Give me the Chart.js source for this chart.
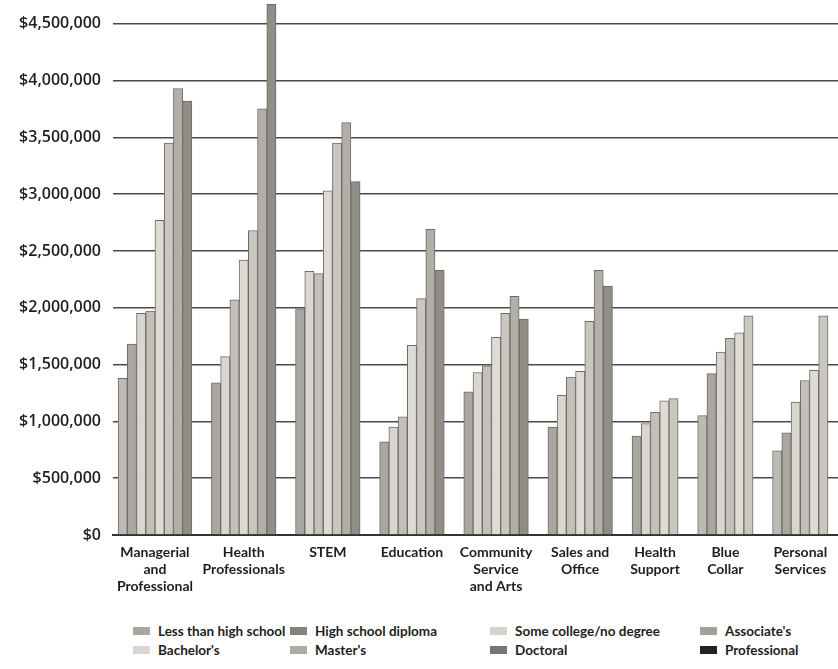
<!DOCTYPE html>
<html>
<head>
<meta charset="utf-8">
<script src="https://cdn.jsdelivr.net/npm/chart.js@4.4.1/dist/chart.umd.min.js"></script>
<style>
  html, body { margin: 0; padding: 0; background: #fff; width: 838px; height: 669px; overflow: hidden; }
  #wrap { position: absolute; left: 0; top: 0; width: 838px; height: 600px; }
  #legend { position: absolute; left: 0; top: 622px; width: 838px; height: 40px;
            font-family: Lato, "Open Sans", sans-serif; font-weight: bold;
            font-size: 13.5px; color: #1e1e1e; }
  .item { position: absolute; white-space: nowrap; line-height: 18px; }
  .sw { display: inline-block; width: 17px; height: 8px; margin-right: 8px; vertical-align: 1px; }
</style>
</head>
<body>
<div id="wrap"><canvas id="c" width="838" height="600"></canvas></div>
<div id="legend"></div>
<script>
const categories = [
  ["Managerial", "and", "Professional"],
  ["Health", "Professionals"],
  "STEM",
  "Education",
  ["Community", "Service", "and Arts"],
  ["Sales and", "Office"],
  ["Health", "Support"],
  ["Blue", "Collar"],
  ["Personal", "Services"]
];
const seriesNames = ["Less than high school", "High school diploma", "Some college/no degree", "Associate's",
                     "Bachelor's", "Master's", "Doctoral", "Professional"];
const lessThanHighSchool = [1380000, null, null, null, null, null, null, 1050000, 740000];
const highSchoolDiploma  = [1680000, 1340000, 1990000, 820000, 1260000, 950000, 870000, 1420000, 900000];
const someCollege        = [1950000, 1570000, 2320000, 950000, 1430000, 1230000, 980000, 1610000, 1170000];
const associates         = [1970000, 2070000, 2300000, 1040000, 1490000, 1390000, 1080000, 1730000, 1360000];
const bachelors          = [2770000, 2420000, 3030000, 1670000, 1740000, 1440000, 1180000, 1780000, 1450000];
const masters            = [3450000, 2680000, 3450000, 2080000, 1950000, 1880000, 1200000, 1930000, 1930000];
const doctoral           = [3930000, 3750000, 3630000, 2690000, 2100000, 2330000, null, null, null];
const professional       = [3820000, 4670000, 3110000, 2330000, 1900000, 2190000, null, null, null];
const yTickValues = [0, 500000, 1000000, 1500000, 2000000, 2500000, 3000000, 3500000, 4000000, 4500000];

const seriesValues = [lessThanHighSchool, highSchoolDiploma, someCollege, associates,
                      bachelors, masters, doctoral, professional];
const fills = ["#bdbab4", "#aaa6a0", "#d9d6d0", "#c3c0ba", "#dedbd5", "#cac7c1", "#b2aea8", "#918d87"];
const swatches = ["#aaa7a1", "#85817b", "#d6d3cd", "#a3a09a", "#dad6cf", "#aeaba5", "#7a766f", "#222222"];

// Each group only holds the bars that have a value; groups are packed side by side
// (in bar-width units) with a constant gap, as in the original figure.
const GROUP_GAP = 2.12;
const groupStart = [];
const groupCenter = [];
let cursor = 0;
categories.forEach((_, ci) => {
  const n = seriesValues.filter(s => s[ci] !== null).length;
  groupStart.push(cursor);
  groupCenter.push(cursor + n / 2);
  cursor += n + GROUP_GAP;
});
function barPoints(si) {
  const pts = [];
  categories.forEach((_, ci) => {
    if (seriesValues[si][ci] === null) return;
    let k = 0;
    for (let j = 0; j < si; j++) if (seriesValues[j][ci] !== null) k++;
    pts.push({ x: groupStart[ci] + k + 0.5, y: seriesValues[si][ci] });
  });
  return pts;
}

const fontAxis = { family: "Lato, 'Open Sans', sans-serif", size: 14, weight: "bold" };
const fontY = { family: "'Open Sans', Lato, sans-serif", size: 16, weight: "600" };

new Chart(document.getElementById("c"), {
  type: "bar",
  data: {
    datasets: seriesNames.map((name, i) => ({
      label: name,
      data: barPoints(i),
      backgroundColor: fills[i],
      borderColor: "#6f6b65",
      borderWidth: 1,
      grouped: false,
      barPercentage: 1.0,
      categoryPercentage: 1.0
    }))
  },
  options: {
    responsive: false,
    animation: false,
    devicePixelRatio: 1,
    layout: { padding: { top: 1, right: 0, left: 0, bottom: 0 } },
    plugins: { legend: { display: false }, tooltip: { enabled: false } },
    scales: {
      x: {
        type: "linear",
        offset: false,
        min: -0.55,
        max: 78.05,
        grid: { display: false },
        border: { display: true, color: "#333", width: 2 },
        afterBuildTicks: (axis) => { axis.ticks = groupCenter.map(v => ({ value: v })); },
        ticks: {
          font: fontAxis, color: "#1e1e1e", padding: 1, maxRotation: 0, autoSkip: false,
          callback: (v, i) => categories[i]
        },
        afterFit: (s) => { s.height = 65; s.paddingLeft = 0; s.paddingRight = 0; }
      },
      y: {
        min: 0,
        max: 4700000,
        afterBuildTicks: (axis) => { axis.ticks = yTickValues.map(v => ({ value: v })); },
        grid: { color: "#4a4a4a", lineWidth: 1.6, drawTicks: false },
        border: { display: false },
        ticks: {
          font: fontY,
          color: "#1e1e1e",
          padding: 12,
          callback: (v) => "$" + Number(v).toLocaleString("en-US")
        },
        afterFit: (s) => { s.width = 113; s.paddingTop = 0; s.paddingBottom = 0; }
      }
    }
  }
});

const legend = document.getElementById("legend");
const colX = [133, 290, 490, 700];
seriesNames.forEach((name, i) => {
  const d = document.createElement("div");
  d.className = "item";
  d.style.left = colX[i % 4] + "px";
  d.style.top = (Math.floor(i / 4) * 19) + "px";
  const sw = document.createElement("span");
  sw.className = "sw";
  sw.style.background = swatches[i];
  d.appendChild(sw);
  d.appendChild(document.createTextNode(name));
  legend.appendChild(d);
});
</script>
</body>
</html>
